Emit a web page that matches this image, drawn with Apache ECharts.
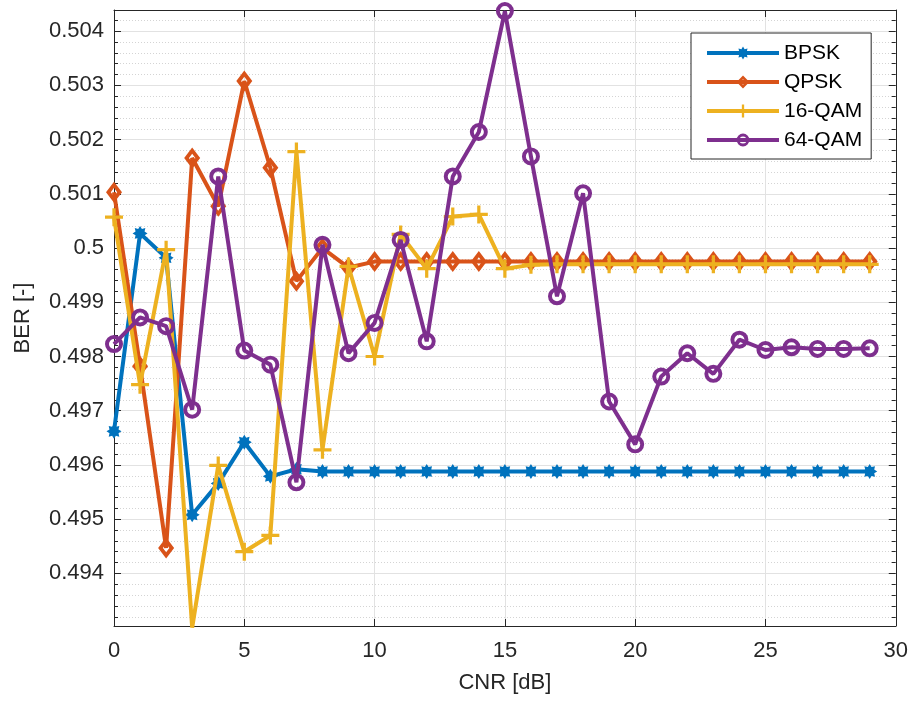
<!DOCTYPE html>
<html>
<head>
<meta charset="utf-8">
<title>BER vs CNR</title>
<script src="https://cdn.jsdelivr.net/npm/echarts@6/dist/echarts.min.js"></script>
<style>
  html, body { margin: 0; padding: 0; background: #fff; }
  #chart { width: 911px; height: 702px; }
</style>
</head>
<body>
<div id="chart"></div>
<script>
// x values, CNR in dB
const cnr = [0, 1, 2, 3, 4, 5, 6, 7, 8, 9, 10, 11, 12, 13, 14, 15, 16, 17, 18, 19, 20, 21, 22, 23, 24, 25, 26, 27, 28, 29];

// BER per modulation
const bpsk = [0.49662, 0.50027, 0.49982, 0.49508, 0.49566, 0.49642, 0.49579, 0.49592, 0.49588, 0.49588,
  0.49588, 0.49588, 0.49588, 0.49588, 0.49588, 0.49588, 0.49588, 0.49588, 0.49588, 0.49588,
  0.49588, 0.49588, 0.49588, 0.49588, 0.49588, 0.49588, 0.49588, 0.49588, 0.49588, 0.49588];
const qpsk = [0.50103, 0.49782, 0.49447, 0.50166, 0.50077, 0.50308, 0.50148, 0.49939, 0.50000, 0.49964,
  0.49975, 0.49975, 0.49975, 0.49975, 0.49975, 0.49975, 0.49975, 0.49975, 0.49975, 0.49975,
  0.49975, 0.49975, 0.49975, 0.49975, 0.49975, 0.49975, 0.49975, 0.49975, 0.49975, 0.49975];
const qam16 = [0.50057, 0.49748, 0.49997, 0.49300, 0.49599, 0.49440, 0.49470, 0.50178, 0.49628, 0.49966,
  0.49800, 0.50025, 0.49962, 0.50058, 0.50062, 0.49962, 0.49969, 0.49970, 0.49970, 0.49970,
  0.49970, 0.49970, 0.49970, 0.49970, 0.49970, 0.49970, 0.49970, 0.49970, 0.49970, 0.49970];
const qam64 = [0.49823, 0.49872, 0.49856, 0.49702, 0.50132, 0.49811, 0.49785, 0.49568, 0.50006, 0.49806,
  0.49862, 0.50015, 0.49828, 0.50132, 0.50214, 0.50437, 0.50169, 0.49911, 0.50101, 0.49717,
  0.49638, 0.49763, 0.49806, 0.49768, 0.49831, 0.49812, 0.49817, 0.49814, 0.49814, 0.49815];

const seriesNames = ['BPSK', 'QPSK', '16-QAM', '64-QAM'];
const xTicks = { min: 0, max: 30, step: 5 };
const yRange = { min: 0.49303, max: 0.50439 };

const font = "'Liberation Sans', Arial, Helvetica, sans-serif";
const ink = '#262626';
const colors = ['#0072BD', '#D95319', '#EDB120', '#7E2F8E'];

// marker shapes, drawn as filled paths so they look like matlab's thick markers
function starPath() {
  let d = '';
  for (let i = 0; i < 16; i++) {
    const r = i % 2 === 0 ? 10 : 6.5;
    const a = Math.PI / 8 * i - Math.PI / 2;
    d += (i === 0 ? 'M' : 'L') + (r * Math.cos(a)).toFixed(2) + ',' + (r * Math.sin(a)).toFixed(2) + ' ';
  }
  return 'path://' + d + 'Z';
}
const plusPath = 'path://M-1.8,-10 L1.8,-10 L1.8,-1.8 L10,-1.8 L10,1.8 L1.8,1.8 L1.8,10 L-1.8,10 L-1.8,1.8 L-10,1.8 L-10,-1.8 L-1.8,-1.8 Z';
// ring: outer clockwise, inner the other way round -> hole
const ringPath = 'path://M0,-10 A10,10 0 1,1 0,10 A10,10 0 1,1 0,-10 Z M0,-5.6 A5.6,5.6 0 1,0 0,5.6 A5.6,5.6 0 1,0 0,-5.6 Z';
const diamondPath = 'path://M0,-10 L8,0 L0,10 L-8,0 Z M0,-4.2 L-3.2,0 L0,4.2 L3.2,0 Z';

const chart = echarts.init(document.getElementById('chart'), null, { renderer: 'canvas' });

function makeSeries(name, vals, idx, symbol, size) {
  return {
    name: name,
    type: 'line',
    data: cnr.map((x, i) => [x, vals[i]]),
    symbol: symbol,
    symbolSize: size,
    showAllSymbol: true,
    z: 2 + idx,
    lineStyle: { width: 4, color: colors[idx] },
    itemStyle: { color: colors[idx], borderWidth: 0 },
    emphasis: { disabled: true }
  };
}

const option = {
  animation: false,
  backgroundColor: '#fff',
  textStyle: { fontFamily: font, color: ink },
  grid: { left: 114, right: 15, top: 10, bottom: 76, containLabel: false },
  legend: {
    orient: 'vertical',
    left: 691,
    top: 33,
    padding: [9, 9, 8, 14],
    itemWidth: 72,
    itemHeight: 16,
    itemGap: 7,
    backgroundColor: '#fff',
    borderColor: ink,
    borderWidth: 1,
    lineStyle: { width: 4 },
    textStyle: { fontSize: 21, color: '#000', fontFamily: font, lineHeight: 22 },
    data: seriesNames
  },
  xAxis: [{
    type: 'value',
    min: xTicks.min, max: xTicks.max, interval: xTicks.step,
    name: 'CNR [dB]',
    nameLocation: 'middle',
    nameGap: 46,
    nameTextStyle: { fontSize: 22, color: ink, fontFamily: font },
    axisLine: { show: true, onZero: false, lineStyle: { color: ink, width: 1 } },
    axisTick: { show: true, inside: true, length: 7, lineStyle: { color: ink } },
    axisLabel: { fontSize: 22, color: ink, margin: 14, fontFamily: font },
    splitLine: { show: true, lineStyle: { color: '#e2e2e2', width: 1 } }
  }, {
    type: 'value',
    position: 'top',
    min: xTicks.min, max: xTicks.max, interval: xTicks.step,
    axisLine: { show: true, onZero: false, lineStyle: { color: ink, width: 1 } },
    axisTick: { show: true, inside: true, length: 7, lineStyle: { color: ink } },
    axisLabel: { show: false },
    splitLine: { show: false }
  }],
  yAxis: [{
    type: 'value',
    min: yRange.min, max: yRange.max, splitNumber: 11,
    name: 'BER [-]',
    nameLocation: 'middle',
    nameGap: 80,
    nameTextStyle: { fontSize: 22, color: ink, fontFamily: font },
    axisLine: { show: true, onZero: false, lineStyle: { color: ink, width: 1 } },
    axisTick: { show: true, inside: true, length: 7, lineStyle: { color: ink } },
    minorTick: { show: true, splitNumber: 5, length: 4, lineStyle: { color: ink } },
    axisLabel: {
      fontSize: 22, color: ink, margin: 10, fontFamily: font,
      showMinLabel: false, showMaxLabel: false,
      formatter: v => String(parseFloat(v.toFixed(3)))
    },
    splitLine: { show: true, lineStyle: { color: '#e2e2e2', width: 1 } },
    minorSplitLine: { show: true, lineStyle: { color: '#d4d4d4', width: 1, type: [1, 2] } }
  }, {
    type: 'value',
    position: 'right',
    min: yRange.min, max: yRange.max, splitNumber: 11,
    axisLine: { show: true, onZero: false, lineStyle: { color: ink, width: 1 } },
    axisTick: { show: true, inside: true, length: 7, lineStyle: { color: ink } },
    minorTick: { show: true, splitNumber: 5, length: 4, lineStyle: { color: ink } },
    axisLabel: { show: false },
    splitLine: { show: false }
  }],
  series: [
    makeSeries(seriesNames[0], bpsk, 0, starPath(), 15),
    makeSeries(seriesNames[1], qpsk, 1, diamondPath, [16, 21]),
    makeSeries(seriesNames[2], qam16, 2, plusPath, 18),
    makeSeries(seriesNames[3], qam64, 3, ringPath, 18)
  ]
};

chart.setOption(option);
</script>
</body>
</html>
